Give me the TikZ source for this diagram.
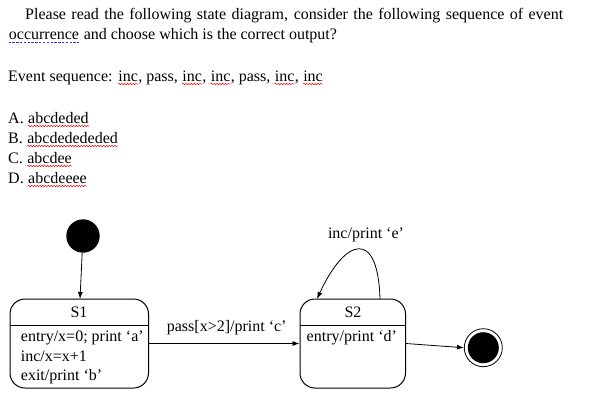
\documentclass[tikz,border=0pt]{standalone}
\usepackage{fontspec}
\setmainfont{Liberation Serif}
\usetikzlibrary{arrows.meta,decorations.pathmorphing}
\newcommand\redwave[1]{\tikz[baseline=(wvtmp.base)]{\node[inner sep=0pt] (wvtmp) {#1}; \draw[red, line width=0.5pt, decorate, decoration={snake, amplitude=0.7pt, segment length=2.8pt}] ([yshift=-3pt]wvtmp.base west) -- ([yshift=-3pt]wvtmp.base east);}}
\newcommand\bluedot[1]{\tikz[baseline=(bdtmp.base)]{\node[inner sep=0pt] (bdtmp) {#1}; \draw[blue!80!white, line width=1pt, dash pattern=on 2.4pt off 1.4pt] ([yshift=-3.5pt]bdtmp.base west) -- ([yshift=-3.5pt]bdtmp.base east);}}
\tikzset{
  txt/.style={anchor=base west, inner sep=0pt, font=\fontsize{16}{19}\selectfont},
  lbl/.style={inner sep=0pt, font=\fontsize{16}{19}\selectfont},
  statebox/.style={draw, line width=1pt, rounded corners=15pt, inner sep=0pt},
  arr/.style={line width=0.8pt, -{Latex[length=7pt,width=5pt]}},
}
\begin{document}
\begin{tikzpicture}[x=1pt,y=-1pt]
\useasboundingbox (0,0) rectangle (596,405);
% question text
\node[txt] (q1) at (25,19) {\makebox[538pt][s]{Please read the following state diagram, consider the following sequence of event}};
\node[txt] (q2) at (8,39) {\bluedot{occurrence} and choose which is the correct output?};
\node[txt] (ev) at (8,81) {Event sequence: \redwave{inc}, pass, \redwave{inc}, \redwave{inc}, pass, \redwave{inc}, \redwave{inc}};
\node[txt] (oa) at (8,123) {A. \redwave{abcdeded}};
\node[txt] (ob) at (8,143) {B. \redwave{abcdedededed}};
\node[txt] (oc) at (8,163) {C. \redwave{abcdee}};
\node[txt] (od) at (8,183) {D. \redwave{abcdeeee}};
% states
\node[circle, fill=black, inner sep=0pt, minimum size=33.4pt] (init) at (83,236) {};
\node[statebox, minimum width=138.5pt, minimum height=89pt] (s1) at (79.25,343.5) {};
\node[statebox, minimum width=105.5pt, minimum height=89pt] (s2) at (352.75,343.5) {};
\draw[line width=1pt] (10,325.7) -- (148.5,325.7);
\draw[line width=1pt] (300,325.7) -- (405.5,325.7);
\node[lbl] (s1t) at (79,312) {S1};
\node[lbl] (s2t) at (353,312) {S2};
\node[txt] (s1a) at (20.7,341.7) {entry/x=0; print ‘a’};
\node[txt] (s1b) at (20.7,361.7) {inc/x=x+1};
\node[txt] (s1c) at (20.7,380) {exit/print ‘b’};
\node[txt] (s2a) at (306.5,341) {entry/print ‘d’};
\node[circle, draw, line width=0.8pt, inner sep=0pt, minimum size=38pt] (fin) at (483.3,347.7) {};
\node[circle, fill=black, inner sep=0pt, minimum size=31pt] (fini) at (fin.center) {};
% connectors
\coordinate (s1in) at (80,299);
\draw[arr] (init) -- (s1in);
\draw[arr] (s1.east) -- (s2.west);
\node[lbl] (pl) at (226.7,328) {pass[x>2]/print ‘c’};
\coordinate (lpA) at (380,299);
\coordinate (lpB) at (317,299);
\draw[arr] (lpA) .. controls (378,228) and (345,238) .. (lpB);
\node[lbl] (ll) at (366,235) {inc/print ‘e’};
\draw[arr] (s2.east) -- (fin.west);
\end{tikzpicture}
\end{document}
